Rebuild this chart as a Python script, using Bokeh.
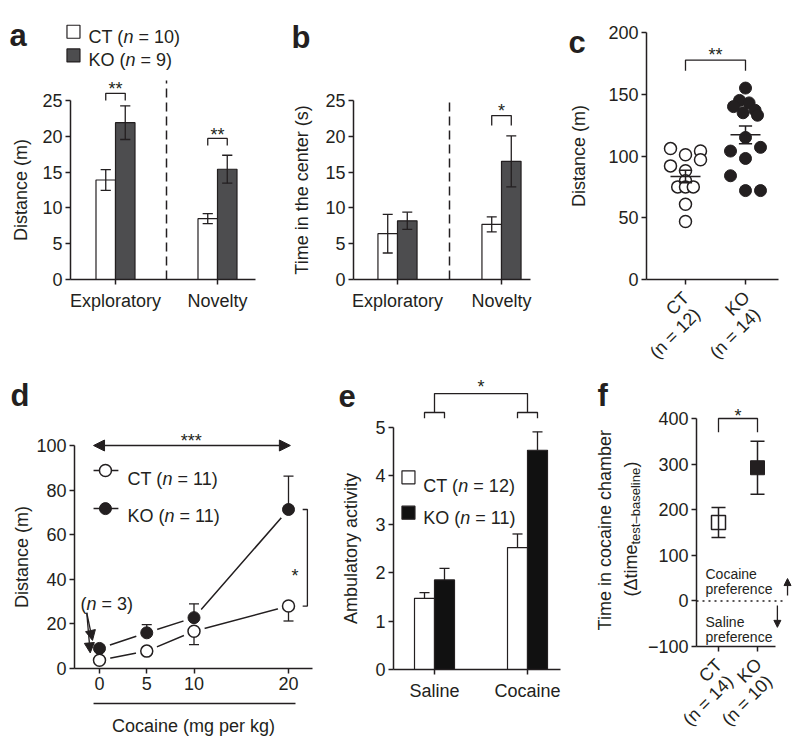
import math
from bokeh.plotting import figure
from bokeh.layouts import row, column
from bokeh.models import Range1d, FixedTicker, Arrow, NormalHead
from bokeh.core.properties import value
from bokeh.embed import file_html
from bokeh.resources import INLINE

FONT = "Liberation Sans"
INK = "#231f20"
KO_GRAY = "#4d4d4f"
KO_BLACK = "#111111"

# ---------------- data ----------------
# panel a : distance (m)
a_groups = ["Exploratory", "Novelty"]
a_ct = [13.9, 8.5]
a_ct_err = [1.45, 0.7]
a_ko = [21.9, 15.4]
a_ko_err = [2.35, 1.95]
a_sig = ["**", "**"]
a_sig_level = [26.0, 19.7]
a_yticks = [0, 5, 10, 15, 20, 25]

# panel b : time in the center (s)
b_groups = ["Exploratory", "Novelty"]
b_ct = [6.4, 7.7]
b_ct_err = [2.7, 1.05]
b_ko = [8.2, 16.5]
b_ko_err = [1.2, 3.55]
b_sig = ["*"]
b_sig_group = [2]
b_sig_level = [22.9]
b_yticks = [0, 5, 10, 15, 20, 25]

# panel c : distance (m), individual animals
c_names = ["CT", "KO"]
c_ns = ["(n = 12)", "(n = 14)"]
c_ct = [106, 101, 104, 97, 92, 88, 80, 75, 75, 75, 61, 47]
c_ct_jitter = [-0.25, 0.0, 0.25, 0.25, -0.25, 0.0, 0.0, -0.13, 0.0, 0.13, 0.0, 0.0]
c_ko = [155, 145, 143, 140, 137, 135, 133, 115, 107, 104, 98, 84, 72, 72]
c_ko_jitter = [0.0, -0.1, 0.06, -0.2, 0.16, -0.04, 0.2, 0.0, 0.25, -0.25, 0.0, -0.25, 0.0, 0.25]
c_sem = [5.0, 7.2]
c_sig_level = 177.7
c_yticks = [0, 50, 100, 150, 200]

# panel d : dose response
d_dose = [0, 5, 10, 20]
d_ct = [3.7, 7.8, 16.7, 28.0]
d_ct_sem = [0.8, 1.2, 6.0, 6.7]
d_ko = [9.0, 16.0, 22.8, 71.3]
d_ko_sem = [1.0, 3.7, 6.2, 15.0]
d_yticks = [0, 20, 40, 60, 80, 100]

# panel e : ambulatory activity
e_groups = ["Saline", "Cocaine"]
e_ct = [1.47, 2.52]
e_ct_sem = [0.12, 0.28]
e_ko = [1.85, 4.53]
e_ko_sem = [0.24, 0.38]
e_yticks = [0, 1, 2, 3, 4, 5]

# panel f : conditioned place preference
f_names = ["CT", "KO"]
f_ns = ["(n = 14)", "(n = 10)"]
f_mean = [172, 292]
f_sem = [33, 58]
f_yticks = [-100, 0, 100, 200, 300, 400]


# ---------------- helpers ----------------
def make_fig(box, xmap, ymap):
    """box = page pixels (left, top, right, bottom); maps = (pixel, value, px per unit)."""
    X0, Y0, X1, Y1 = box
    xp, xv, kx = xmap
    yp, yv, ky = ymap
    xr = (xv + (X0 - xp) / kx, xv + (X1 - xp) / kx)
    yr = (yv - (Y1 - yp) / ky, yv - (Y0 - yp) / ky)
    p = figure(width=X1 - X0, height=Y1 - Y0, x_range=Range1d(*xr), y_range=Range1d(*yr),
               output_backend="svg", toolbar_location=None, min_border=0)
    p.outline_line_color = None
    p.xgrid.visible = False
    p.ygrid.visible = False
    p.background_fill_color = "white"
    p.border_fill_color = "white"
    for ax in (p.xaxis[0], p.yaxis[0]):
        ax.axis_line_color = INK
        ax.axis_line_width = 1.5
        ax.major_tick_line_color = INK
        ax.major_tick_line_width = 1.5
        ax.major_tick_out = 5
        ax.major_tick_in = 0
        ax.minor_tick_line_color = None
        ax.major_label_text_font = FONT
        ax.major_label_text_font_size = "18px"
        ax.major_label_text_color = INK
        ax.major_label_standoff = 3
    return p


def axes(p, yaxis_x, xaxis_y, xbounds, ybounds, yticks):
    p.yaxis.fixed_location = yaxis_x
    p.xaxis.fixed_location = xaxis_y
    p.xaxis.bounds = xbounds
    p.yaxis.bounds = ybounds
    p.yaxis.ticker = FixedTicker(ticks=yticks)


def txt(p, x, y, s, size=18, align="left", style="normal", x_offset=0, angle=0.0,
        baseline="alphabetic"):
    p.text(x=[x], y=[y], text=[s], text_font=value(FONT), text_font_size=value(f"{size}px"),
           text_color=INK, text_align=align, text_baseline=baseline, angle=angle,
           text_font_style=style, x_offset=x_offset)


def n_text(p, x, y, prefix, prefix_w, suffix, size=18):
    txt(p, x, y, prefix, size)
    txt(p, x, y, "n", size, style="italic", x_offset=prefix_w)
    txt(p, x, y, suffix, size, x_offset=prefix_w + (0.556 + 0.278) * size)


def letter(p, x, y, s):
    txt(p, x, y, s, 31, style="bold")


def ylabel(p, x, y, s):
    txt(p, x, y, s, 18, align="center", angle=math.pi / 2)


def errbars(p, xs, ys, errs, cap, up=True, down=True, lw=1.3):
    lo = [y - e if down else y for y, e in zip(ys, errs)]
    hi = [y + e if up else y for y, e in zip(ys, errs)]
    p.segment(x0=xs, y0=lo, x1=xs, y1=hi, line_color=INK, line_width=lw)
    cy, cx = [], []
    if up:
        cy += hi
        cx += list(xs)
    if down:
        cy += lo
        cx += list(xs)
    p.segment(x0=[x - cap for x in cx], y0=cy, x1=[x + cap for x in cx], y1=cy,
              line_color=INK, line_width=lw)


def bracket(p, x0, x1, top, drop, lw=1.3):
    p.line(x=[x0, x0, x1, x1], y=[top - drop, top, top, top - drop],
           line_color=INK, line_width=lw)


def cat_axis(p, labels):
    p.xaxis.ticker = FixedTicker(ticks=[1, 2])
    p.xaxis.major_label_overrides = {1: labels[0], 2: labels[1]}


def rotated_ticks(p, names, ns, dx1, y1, dx2, y2):
    for i, (nm, nn) in enumerate(zip(names, ns)):
        txt(p, 1 + i + dx1, y1, nm, 18, align="center", baseline="middle", angle=math.pi / 4)
        txt(p, 1 + i + dx2, y2, nn, 18, align="center", baseline="middle", angle=math.pi / 4)


xs = [1, 2]

# ---------------- panel a ----------------
pa = make_fig((0, 0, 262, 367), (115, 1, 102), (279, 0, 7.16))
half = 0.0956
pa.vbar(x=[x - half for x in xs], top=a_ct, width=2 * half, bottom=0,
        fill_color="white", line_color=INK, line_width=1.2)
pa.vbar(x=[x + half for x in xs], top=a_ko, width=2 * half, bottom=0,
        fill_color=KO_GRAY, line_color=INK, line_width=1.2)
errbars(pa, [x - half for x in xs], a_ct, a_ct_err, 0.05)
errbars(pa, [x + half for x in xs], a_ko, a_ko_err, 0.05)
pa.segment(x0=[1.5], y0=[0], x1=[1.5], y1=[27.8], line_color=INK, line_width=1.5, line_dash="9 5")
for x, s, lev in zip(xs, a_sig, a_sig_level):
    bracket(pa, x - half, x + half, lev, 1.0)
    txt(pa, x, lev + 0.55, s, 18, align="center")
pa.scatter(x=[0.588, 0.588], y=[34.6, 31.3], marker="square", size=13,
           fill_color=["white", KO_GRAY], line_color=INK, line_width=1.2)
n_text(pa, 0.735, 33.9, "CT (", 35.0, "= 10)")
n_text(pa, 0.735, 30.6, "KO (", 37.0, "= 9)")
axes(pa, 0.559, 0, (0.559, 2.373), (0, 25), a_yticks)
cat_axis(pa, a_groups)
pa.xaxis.major_label_standoff = 6
ylabel(pa, 0.069, 12.5, "Distance (m)")
letter(pa, -0.039, 34.1, "a")

# ---------------- panel b ----------------
pb = make_fig((262, 0, 545, 367), (397, 1, 104), (279, 0, 7.16))
half_b = 0.094
pb.vbar(x=[x - half_b for x in xs], top=b_ct, width=2 * half_b, bottom=0,
        fill_color="white", line_color=INK, line_width=1.2)
pb.vbar(x=[x + half_b for x in xs], top=b_ko, width=2 * half_b, bottom=0,
        fill_color=KO_GRAY, line_color=INK, line_width=1.2)
errbars(pb, [x - half_b for x in xs], b_ct, b_ct_err, 0.048)
errbars(pb, [x + half_b for x in xs], b_ko, b_ko_err, 0.048)
pb.segment(x0=[1.5], y0=[0], x1=[1.5], y1=[25.3], line_color=INK, line_width=1.5, line_dash="9 5")
for g, s, lev in zip(b_sig_group, b_sig, b_sig_level):
    bracket(pb, g - half_b, g + half_b, lev, 1.4)
    txt(pb, g, lev + 0.7, s, 18, align="center")
axes(pb, 0.577, 0, (0.577, 2.279), (0, 25), b_yticks)
cat_axis(pb, b_groups)
pb.xaxis.major_label_standoff = 6
ylabel(pb, 0.086, 12.5, "Time in the center (s)")
letter(pb, -0.019, 33.8, "b")

# ---------------- panel c ----------------
pc = make_fig((545, 0, 796, 367), (685, 1, 60), (279, 0, 1.235))
c_means = [sum(c_ct) / len(c_ct), sum(c_ko) / len(c_ko)]
pc.scatter(x=[1 + j for j in c_ct_jitter], y=c_ct, size=12, fill_color="white",
           line_color=INK, line_width=1.5)
pc.scatter(x=[2 + j for j in c_ko_jitter], y=c_ko, size=12, fill_color=INK,
           line_color=INK, line_width=1.0)
pc.segment(x0=[0.75, 1.75], y0=c_means, x1=[1.25, 2.25], y1=c_means, line_color=INK, line_width=1.5)
errbars(pc, [1, 2], c_means, c_sem, 0.11, lw=1.5)
bracket(pc, 1, 2, c_sig_level, 8.7)
txt(pc, 1.5, c_sig_level + 3.8, "**", 18, align="center")
axes(pc, 0.35, 0, (0.35, 2.55), (0, 200), c_yticks)
cat_axis(pc, ["", ""])
rotated_ticks(pc, c_names, c_ns, -0.133, -19.4, -0.175, -43.7)
ylabel(pc, -0.767, 100, "Distance (m)")
letter(pc, -0.95, 191.9, "c")

# ---------------- panel d ----------------
pd = make_fig((0, 367, 320, 737), (99, 0, 9.45), (668, 0, 2.23))
pd.line(x=d_dose, y=d_ct, line_color=INK, line_width=1.5)
pd.line(x=d_dose, y=d_ko, line_color=INK, line_width=1.5)
pd.scatter(x=d_dose + d_dose, y=d_ct + d_ko, size=22, fill_color="white", line_color=None)
errbars(pd, d_dose, d_ko, d_ko_sem, 0.53, up=True, down=False)
errbars(pd, d_dose, d_ct, d_ct_sem, 0.53, up=False, down=True)
pd.scatter(x=d_dose, y=d_ct, size=12, fill_color="white", line_color=INK, line_width=1.5)
pd.scatter(x=d_dose, y=d_ko, size=12, fill_color=INK, line_color=INK)
# legend
pd.line(x=[-0.63, 2.0], y=[88.8, 88.8], line_color=INK, line_width=1.5)
pd.line(x=[-0.63, 2.0], y=[71.7, 71.7], line_color=INK, line_width=1.5)
pd.scatter(x=[0.63], y=[88.8], size=12, fill_color="white", line_color=INK, line_width=1.5)
pd.scatter(x=[0.63], y=[71.7], size=12, fill_color=INK, line_color=INK)
n_text(pd, 2.96, 85.2, "CT (", 35.0, "= 11)")
n_text(pd, 2.96, 68.2, "KO (", 37.0, "= 11)")
# significance
pd.add_layout(Arrow(start=NormalHead(size=11, fill_color=INK, line_color=INK),
                    end=NormalHead(size=11, fill_color=INK, line_color=INK),
                    x_start=-0.63, y_start=100, x_end=20.2, y_end=100,
                    line_color=INK, line_width=1.5))
txt(pd, 9.7, 102.0, "***", 18, align="center")
pd.line(x=[21.5, 22.0, 22.0, 21.5], y=[d_ko[-1], d_ko[-1], d_ct[-1], d_ct[-1]],
        line_color=INK, line_width=1.3)
txt(pd, 20.7, 41.7, "*", 18, align="center")
# (n = 3) annotation
n_text(pd, -2.01, 29.1, "(", 6.0, "= 3)")
for (xe, ye) in [(-0.74, 12.6), (-0.98, 7.0)]:
    pd.add_layout(Arrow(end=NormalHead(size=10, fill_color=INK, line_color=INK),
                        x_start=-1.35, y_start=25.0, x_end=xe, y_end=ye,
                        line_color=INK, line_width=1.3))
# dose axis underline and title
pd.line(x=[-0.63, 20.74], y=[-15.7, -15.7], line_color=INK, line_width=1.3)
txt(pd, 9.95, -26.0, "Cocaine (mg per kg)", 18, align="center")
axes(pd, -2.65, 0, (-2.65, 22.54), (0, 100), d_yticks)
pd.xaxis.ticker = FixedTicker(ticks=d_dose)
ylabel(pd, -8.15, 50, "Distance (m)")
letter(pd, -9.42, 122.4, "d")

# ---------------- panel e ----------------
pe = make_fig((320, 367, 575, 737), (434, 1, 93), (669, 0, 48.4))
half_e = 0.1075
pe.vbar(x=[x - half_e for x in xs], top=e_ct, width=2 * half_e, bottom=0,
        fill_color="white", line_color=INK, line_width=1.2)
pe.vbar(x=[x + half_e for x in xs], top=e_ko, width=2 * half_e, bottom=0,
        fill_color=KO_BLACK, line_color=INK, line_width=1.2)
errbars(pe, [x - half_e for x in xs], e_ct, e_ct_sem, 0.054, up=True, down=False)
errbars(pe, [x + half_e for x in xs], e_ko, e_ko_sem, 0.054, up=True, down=False)
for x in xs:
    bracket(pe, x - half_e, x + half_e, 5.31, 0.12)
bracket(pe, 1, 2, 5.70, 0.39)
txt(pe, 1.5, 5.83, "*", 18, align="center")
pe.scatter(x=[0.72, 0.72], y=[3.97, 3.24], marker="square", size=13,
           fill_color=["white", KO_BLACK], line_color=INK, line_width=1.2)
n_text(pe, 0.88, 3.80, "CT (", 35.0, "= 12)")
n_text(pe, 0.88, 3.12, "KO (", 37.0, "= 11)")
axes(pe, 0.559, 0, (0.559, 2.355), (0, 5), e_yticks)
cat_axis(pe, e_groups)
pe.xaxis.major_label_standoff = 6
ylabel(pe, 0.097, 2.5, "Ambulatory activity")
letter(pe, -0.032, 5.66, "e")

# ---------------- panel f ----------------
pf = make_fig((575, 367, 796, 737), (718, 1, 39), (646, -100, 0.456))
pf.segment(x0=[0.436], y0=[0], x1=[2.72], y1=[0], line_color=INK, line_width=1.5, line_dash="2 4")
pf.scatter(x=[1], y=[f_mean[0]], marker="square", size=14, fill_color="white",
           line_color=INK, line_width=1.5)
errbars(pf, [1, 2], f_mean, f_sem, 0.18, lw=1.5)
pf.scatter(x=[2], y=[f_mean[1]], marker="square", size=14, fill_color=INK, line_color=INK)
bracket(pf, 1, 2, 400, 30)
txt(pf, 1.5, 406, "*", 18, align="center")
txt(pf, 0.667, 60, "Cocaine", 14)
txt(pf, 0.667, 27, "preference", 14)
txt(pf, 0.667, -47, "Saline", 14)
txt(pf, 0.667, -80, "preference", 14)
pf.add_layout(Arrow(end=NormalHead(size=7, fill_color=INK, line_color=INK),
                    x_start=2.77, y_start=12, x_end=2.77, y_end=49,
                    line_color=INK, line_width=1.3))
pf.add_layout(Arrow(end=NormalHead(size=7, fill_color=INK, line_color=INK),
                    x_start=2.51, y_start=-10, x_end=2.51, y_end=-58,
                    line_color=INK, line_width=1.3))
axes(pf, 0.436, -100, (0.436, 2.46), (-100, 400), f_yticks)
pf.yaxis.major_label_overrides = {-100: "\u2212100"}
cat_axis(pf, ["", ""])
rotated_ticks(pf, f_names, f_ns, -0.205, -152.6, -0.269, -218.4)
ylabel(pf, -1.898, 155, "Time in cocaine chamber")
txt(pf, -1.231, 9.6, "(\u0394time", 18, angle=math.pi / 2)
txt(pf, -1.128, 123.7, "test\u2013baseline", 13, angle=math.pi / 2)
txt(pf, -1.231, 292.5, ")", 18, angle=math.pi / 2)
letter(pf, -2.10, 450, "f")

layout = column(row(pa, pb, pc), row(pd, pe, pf))
open("out.html", "w").write(file_html(layout, INLINE, "figure"))
